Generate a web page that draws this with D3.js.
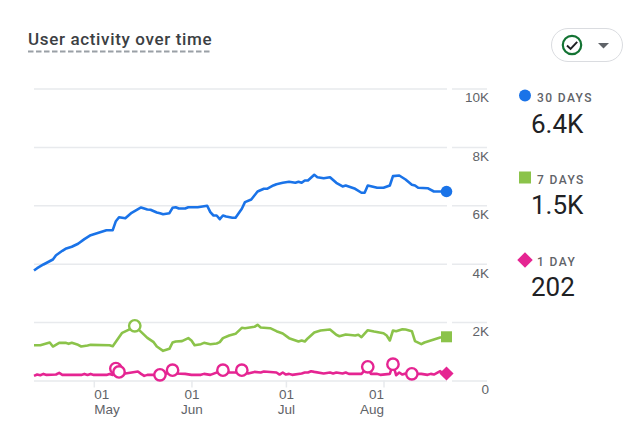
<!DOCTYPE html>
<html>
<head>
<meta charset="utf-8">
<script src="https://cdn.jsdelivr.net/npm/d3@7"></script>
<style>
  html, body { margin: 0; padding: 0; background: #fff; }
  svg { display: block; font-family: Roboto, sans-serif; }
</style>
</head>
<body>
<svg id="chart" width="631" height="429"></svg>
<script>
const START_DATE = new Date(2023, 3, 12);
const END_DATE = new Date(2023, 7, 21);

// days counted from START_DATE
const days30 = [0,1,3,6,7,9,10,12,14,16,18,19,21,23,25,26,27,29,31,34,36,37,39,40,41,43,44,45,46,48,49,52,55,56,57,58,59,60,61,63,64,66,67,69,71,73,74,76,77,79,81,83,84,85,86,87,89,90,92,94,96,98,99,102,104,105,106,107,109,111,113,114,116,118,120,121,122,125,127,131];
const values30 = [3767,3846,3973,4144,4291,4442,4510,4579,4682,4840,4977,5011,5079,5148,5148,5456,5593,5559,5744,5925,5857,5846,5754,5730,5696,5730,5915,5935,5891,5891,5935,5935,5983,5764,5651,5651,5525,5651,5617,5572,5572,5880,6107,6199,6473,6565,6565,6679,6723,6771,6805,6771,6805,6771,6850,6850,7045,6963,6929,6963,6771,6644,6679,6565,6429,6429,6679,6655,6600,6600,6679,7000,7021,6884,6703,6679,6600,6586,6473,6473];

const days7 = [0,2,5,6,8,10,11,12,14,15,17,18,24,25,27,28,30,32,33,36,38,39,41,43,44,45,47,49,50,51,53,54,56,58,59,60,62,64,66,67,70,71,72,75,77,79,81,84,85,86,87,89,91,94,96,97,99,102,103,104,106,108,111,112,113,114,115,117,118,120,121,123,124,127,129,131];
const values7 = [1209,1209,1301,1164,1290,1290,1256,1290,1221,1164,1198,1221,1209,1175,1484,1632,1735,1872,1769,1461,1313,1164,1016,1084,1301,1336,1347,1450,1370,1209,1244,1290,1244,1267,1313,1450,1541,1598,1804,1792,1838,1906,1815,1792,1689,1610,1450,1336,1370,1336,1450,1644,1712,1747,1565,1517,1575,1541,1565,1484,1723,1678,1620,1541,1370,1712,1689,1757,1747,1689,1347,1244,1301,1404,1473,1497];

const days1 = [0,1,2,3,4,7,8,9,15,16,17,18,19,23,24,25,26,27,29,31,33,34,35,36,38,40,42,44,45,48,50,53,54,56,60,62,64,66,68,70,72,73,77,78,79,80,81,82,85,86,87,88,89,92,94,95,96,98,99,100,104,106,107,109,110,113,114,115,116,117,118,119,120,123,125,126,127,129,130,131];
const values1 = [158,205,182,226,192,205,260,192,192,226,192,226,192,192,226,192,410,295,239,273,307,227,158,193,193,193,239,353,239,227,193,193,227,193,353,273,273,353,239,295,273,307,273,204,273,204,227,193,239,273,273,319,295,239,273,239,273,239,273,227,227,467,227,227,193,227,558,181,273,204,239,181,227,227,193,227,204,319,239,239];

// ringed points
const ringDays7 = [32];
const ringDays1 = [26,27,40,44,60,66,106,114,120];

const yTicks = [0,2000,4000,6000,8000,10000];
const xTicks = [new Date(2023,4,1), new Date(2023,5,1), new Date(2023,6,1), new Date(2023,7,1)];

const legendLabels = ['30 DAYS','7 DAYS','1 DAY'];
const legendValues = ['6.4K','1.5K','202'];

const BLUE = '#1a73e8', GREEN = '#8bc34a', PINK = '#e52592';
const GRID = '#e8eaed', LABEL = '#5f6368';

const svg = d3.select('#chart');
const x = d3.scaleTime().domain([START_DATE, END_DATE]).range([34, 446.5]);
const y = d3.scaleLinear().domain([0, 10000]).range([380.5, 88.5]);
const dayX = d => x(d3.timeDay.offset(START_DATE, d));

// y axis, grid broken just before the labels
const yAxis = svg.append('g')
  .attr('transform', 'translate(487,0)')
  .call(d3.axisLeft(y).tickValues(yTicks).tickSize(453).tickPadding(0)
    .tickFormat(d => d === 0 ? '0' : (d / 1000) + 'K'));
yAxis.select('.domain').remove();
yAxis.selectAll('.tick line').attr('stroke', GRID).attr('stroke-width', 1.5)
  .attr('stroke-dasharray', '35,5,413');
yAxis.selectAll('.tick text')
  .attr('x', 2).attr('y', 9).attr('dy', '0.32em')
  .attr('text-anchor', 'end')
  .attr('fill', LABEL).style('font-size', '13.5px');

// x axis, outer labels pulled inwards
const xAxis = svg.append('g')
  .attr('transform', 'translate(0,380.5)')
  .call(d3.axisBottom(x).tickValues(xTicks).tickSize(7).tickFormat(''));
xAxis.select('.domain').remove();
xAxis.selectAll('.tick line').attr('stroke', GRID).attr('stroke-width', 1.5);
xAxis.selectAll('.tick').each(function(d, i) {
  const anchor = i === 0 ? 'start' : i === xTicks.length - 1 ? 'end' : 'middle';
  const t = d3.select(this).select('text')
    .attr('text-anchor', anchor).attr('y', 0)
    .attr('fill', LABEL).style('font-size', '13.5px');
  t.append('tspan').attr('x', 0).attr('y', 10.5).attr('dy', '0.6em').text(d3.timeFormat('%d')(d));
  t.append('tspan').attr('x', 0).attr('y', 25.5).attr('dy', '0.6em').text(d3.timeFormat('%b')(d));
});

const line = d3.line().x(d => dayX(d[0])).y(d => y(d[1]));

function drawSeries(days, values, color, rings) {
  const pts = days.map((d, i) => [d, values[i]]);
  svg.append('path').datum(pts)
    .attr('fill', 'none').attr('stroke', color).attr('stroke-width', 2.6)
    .attr('stroke-linejoin', 'round').attr('d', line);
  svg.selectAll(null)
    .data(pts.filter(p => rings.includes(p[0])))
    .enter().append('circle')
    .attr('cx', d => dayX(d[0])).attr('cy', d => y(d[1])).attr('r', 5.7)
    .attr('fill', '#fff').attr('stroke', color).attr('stroke-width', 2.4);
}
drawSeries(days30, values30, BLUE, []);
drawSeries(days7, values7, GREEN, ringDays7);
drawSeries(days1, values1, PINK, ringDays1);

// end markers
const lastX = dayX(131);
svg.append('circle').attr('cx', lastX).attr('cy', y(values30[values30.length - 1])).attr('r', 5.8).attr('fill', BLUE);
svg.append('rect').attr('x', lastX - 5.5).attr('y', y(values7[values7.length - 1]) - 5.5).attr('width', 11).attr('height', 11).attr('fill', GREEN);
svg.append('path').attr('transform', `translate(${lastX},${y(values1[values1.length - 1])}) rotate(45)`)
  .attr('d', 'M-5,-5H5V5H-5Z').attr('fill', PINK);

// title
svg.append('text').attr('x', 28).attr('y', 45)
  .style('font-size', '17px').style('font-weight', 500).style('letter-spacing', '0.65px')
  .attr('fill', '#3c4043').text('User activity over time');
svg.append('line').attr('x1', 28).attr('x2', 211).attr('y1', 51.5).attr('y2', 51.5)
  .attr('stroke', '#9aa0a6').attr('stroke-width', 2).attr('stroke-dasharray', '5.5,2.5');

// filter button
svg.append('rect').attr('x', 551.5).attr('y', 28.5).attr('width', 71).attr('height', 33).attr('rx', 16.5)
  .attr('fill', '#fff').attr('stroke', '#dadce0');
svg.append('circle').attr('cx', 572).attr('cy', 45).attr('r', 9.2)
  .attr('fill', 'none').attr('stroke', '#137333').attr('stroke-width', 2.2);
svg.append('path').attr('d', 'M567,45.5l3.6,3.4l6.6,-7')
  .attr('fill', 'none').attr('stroke', '#202124').attr('stroke-width', 2);
svg.append('path').attr('d', 'M598,43h11l-5.5,5.5Z').attr('fill', LABEL);

// legend
const legendY = [102, 184, 266];
const valueY = [133, 214, 296];
legendLabels.forEach((label, i) => {
  svg.append('text').attr('x', 537).attr('y', legendY[i])
    .style('font-size', '12px').style('font-weight', 500).style('letter-spacing', '1.4px')
    .attr('fill', LABEL).text(label);
  svg.append('text').attr('x', 531).attr('y', valueY[i])
    .style('font-size', '26px').attr('fill', '#202124').text(legendValues[i]);
});
svg.append('circle').attr('cx', 525).attr('cy', 95.5).attr('r', 6).attr('fill', BLUE);
svg.append('rect').attr('x', 519).attr('y', 171.5).attr('width', 12).attr('height', 12).attr('fill', GREEN);
svg.append('path').attr('transform', 'translate(525,260) rotate(45)').attr('d', 'M-5.5,-5.5H5.5V5.5H-5.5Z').attr('fill', PINK);
</script>
</body>
</html>
